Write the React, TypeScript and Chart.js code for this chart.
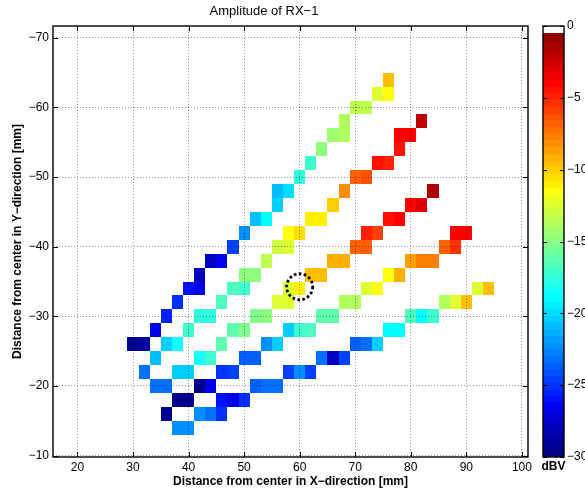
import React, { useEffect, useRef } from "react";
import { Chart, registerables } from "chart.js";

Chart.register(...registerables);

// ---------- texts ----------
const titleText = "Amplitude of RX\u22121";
const xAxisTitle = "Distance from center in X\u2212direction [mm]";
const yAxisTitle = "Distance from center in Y\u2212direction [mm]";
const colorbarUnit = "dBV";

// ---------- axes ----------
const xTickValues = [20, 30, 40, 50, 60, 70, 80, 90, 100];
const yTickValues = [-70, -60, -50, -40, -30, -20, -10];
const colorbarTicks = [0, -5, -10, -15, -20, -25, -30];
const xRange = [15.6, 101.1];
const yRange = [-71.7, -9.8];
const colorRange = [-30, 0];
const cellSize = 2; // mm

// ---------- data: rows of cells (y in mm), x centres (mm), amplitude (dBV) ----------
const rowY = [-64, -62, -60, -58, -56, -54, -52, -50, -48, -46, -44, -42, -40, -38, -36, -34, -32, -30, -28, -26, -24, -22, -20, -18, -16, -14];
const rowX = [
  [76],
  [74, 76],
  [70, 72],
  [68, 82],
  [66, 68, 78, 80],
  [64, 78],
  [62, 74, 76],
  [60, 70, 72],
  [56, 58, 68, 84],
  [56, 66, 80, 82],
  [52, 54, 62, 64, 76, 78],
  [50, 58, 60, 72, 74, 88, 90],
  [48, 56, 58, 70, 72, 86, 88],
  [44, 46, 54, 66, 68, 80, 82, 84],
  [42, 50, 52, 62, 64, 76, 78],
  [40, 42, 48, 50, 58, 60, 72, 74, 92, 94],
  [38, 46, 56, 58, 68, 70, 86, 88, 90],
  [36, 42, 44, 52, 54, 64, 66, 80, 82, 84],
  [34, 40, 48, 50, 58, 60, 62, 76, 78],
  [30, 32, 36, 38, 46, 54, 56, 70, 72, 74],
  [34, 42, 44, 50, 52, 64, 66, 68],
  [32, 38, 40, 46, 48, 58, 60, 62],
  [34, 36, 42, 44, 52, 54, 56],
  [38, 40, 46, 48, 50],
  [36, 42, 44, 46],
  [38, 40],
];
const rowDbV = [
  [-9.6],
  [-12.2, -11.3],
  [-13.5, -13.5],
  [-13.9, -2.3],
  [-14.3, -13.9, -4.1, -3.8],
  [-15.0, -4.3],
  [-16.9, -4.6, -4.9],
  [-17.8, -6.6, -6.2],
  [-21.0, -19.9, -8.4, -1.5],
  [-20.2, -10.1, -3.8, -3.0],
  [-21.0, -19.0, -10.8, -10.8, -4.6, -3.8],
  [-22.2, -11.7, -10.6, -4.9, -5.9, -4.2, -3.9],
  [-24.4, -13.1, -12.2, -7.0, -6.6, -6.6, -5.3],
  [-27.8, -26.3, -13.5, -9.0, -9.2, -8.6, -7.8, -7.8],
  [-27.8, -15.0, -14.6, -9.6, -9.6, -11.3, -9.0],
  [-25.8, -26.3, -16.5, -16.9, -12.2, -10.8, -12.2, -11.3, -12.2, -9.6],
  [-25.3, -16.5, -12.5, -12.2, -13.9, -13.9, -13.9, -12.5, -9.6],
  [-25.4, -17.7, -17.7, -15.4, -14.6, -16.0, -16.0, -16.5, -18.8, -16.9],
  [-26.3, -16.9, -16.0, -15.4, -20.6, -16.9, -16.5, -18.8, -18.8],
  [-29.5, -29.0, -20.2, -18.3, -16.0, -22.5, -20.6, -23.9, -23.4, -20.4],
  [-21.0, -18.3, -16.9, -23.9, -23.9, -23.4, -27.8, -24.4],
  [-23.4, -20.4, -20.2, -25.3, -24.8, -24.4, -22.5, -24.4],
  [-23.4, -23.0, -29.4, -26.6, -23.9, -23.4, -23.0],
  [-29.4, -29.4, -25.8, -26.3, -25.3],
  [-29.4, -22.2, -23.4, -25.3],
  [-22.5, -22.5],
];

// dotted circle marker (mm)
const markerX = [60];
const markerY = [-34.25];

// ---------- colormap (MATLAB jet(64), last entry white) ----------
const NCOL = 64;
function jetRGB(i: number): string {
  // i in 1..64
  if (i >= NCOL) return "rgb(255,255,255)";
  let r = 0, g = 0, b = 0;
  if (i <= 24) r = 0; else if (i <= 40) r = (i - 24) / 16; else if (i <= 56) r = 1; else r = 1 - (i - 56) / 16;
  if (i <= 8) g = 0; else if (i <= 24) g = (i - 8) / 16; else if (i <= 40) g = 1; else if (i <= 56) g = 1 - (i - 40) / 16; else g = 0;
  if (i <= 9) b = 0.5 + (i - 1) / 16; else if (i <= 25) b = 1; else if (i <= 40) b = 1 - (i - 25) / 16; else b = 0;
  return `rgb(${Math.round(r * 255)},${Math.round(g * 255)},${Math.round(b * 255)})`;
}
function colorFor(v: number): string {
  const [cmin, cmax] = colorRange;
  let idx = Math.floor(((v - cmin) / (cmax - cmin)) * NCOL) + 1;
  idx = Math.max(1, Math.min(NCOL, idx));
  return jetRGB(idx);
}

const FONT = "'Liberation Sans', Arial, Helvetica, sans-serif";
const fmt = (v: number) => (v < 0 ? "\u2212" + Math.abs(v) : String(v));

const heatmapPlugin = {
  id: "heatmapPlugin",
  beforeDraw(chart: any) {
    const { ctx } = chart;
    const xs = chart.scales.x;
    const ys = chart.scales.y;
    ctx.save();
    ctx.fillStyle = "#fff";
    ctx.fillRect(0, 0, chart.width, chart.height);
    rowY.forEach((ry, ri) => {
      rowX[ri].forEach((cx, ci) => {
        const x0 = Math.round(xs.getPixelForValue(cx - cellSize / 2));
        const x1 = Math.round(xs.getPixelForValue(cx + cellSize / 2));
        const y0 = Math.round(ys.getPixelForValue(ry - cellSize / 2));
        const y1 = Math.round(ys.getPixelForValue(ry + cellSize / 2));
        ctx.fillStyle = colorFor(rowDbV[ri][ci]);
        ctx.fillRect(Math.min(x0, x1), Math.min(y0, y1), Math.abs(x1 - x0), Math.abs(y1 - y0));
      });
    });
    ctx.restore();
  },
  afterDraw(chart: any) {
    const { ctx, chartArea } = chart;
    const xs = chart.scales.x;
    const ys = chart.scales.y;
    const cb = chart.scales.cb;
    const { left, right, top, bottom } = chartArea;
    ctx.save();

    // axes box
    ctx.strokeStyle = "#000";
    ctx.lineWidth = 1.4;
    ctx.strokeRect(left, top, right - left, bottom - top);

    // inward ticks on all four sides
    ctx.lineWidth = 1;
    ctx.beginPath();
    const tl = 5;
    xTickValues.forEach((v) => {
      const px = Math.round(xs.getPixelForValue(v)) + 0.5;
      ctx.moveTo(px, bottom); ctx.lineTo(px, bottom - tl);
      ctx.moveTo(px, top); ctx.lineTo(px, top + tl);
    });
    yTickValues.forEach((v) => {
      const py = Math.round(ys.getPixelForValue(v)) + 0.5;
      ctx.moveTo(left, py); ctx.lineTo(left + tl, py);
      ctx.moveTo(right, py); ctx.lineTo(right - tl, py);
    });
    ctx.stroke();

    // dotted circle marker
    ctx.lineWidth = 2.8;
    ctx.setLineDash([2.6, 2.4]);
    markerX.forEach((mx, i) => {
      ctx.beginPath();
      ctx.arc(xs.getPixelForValue(mx), ys.getPixelForValue(markerY[i]), 13, 0, Math.PI * 2);
      ctx.stroke();
    });
    ctx.setLineDash([]);

    // colorbar
    const barL = right + 15;
    const barW = 21;
    const [cmin, cmax] = colorRange;
    const step = (cmax - cmin) / NCOL;
    for (let k = 0; k < NCOL; k++) {
      const v0 = cmin + k * step;
      const v1 = v0 + step;
      const y0 = Math.round(cb.getPixelForValue(v0));
      const y1 = Math.round(cb.getPixelForValue(v1));
      ctx.fillStyle = jetRGB(k + 1);
      ctx.fillRect(barL, Math.min(y0, y1), barW, Math.abs(y1 - y0));
    }
    const cbTop = cb.getPixelForValue(cmax);
    const cbBot = cb.getPixelForValue(cmin);
    ctx.strokeStyle = "#000";
    ctx.lineWidth = 1.4;
    ctx.strokeRect(barL, cbTop, barW, cbBot - cbTop);
    ctx.lineWidth = 1;
    ctx.beginPath();
    colorbarTicks.forEach((v) => {
      const py = Math.round(cb.getPixelForValue(v)) + 0.5;
      ctx.moveTo(barL, py); ctx.lineTo(barL + 4, py);
      ctx.moveTo(barL + barW, py); ctx.lineTo(barL + barW - 4, py);
    });
    ctx.stroke();
    ctx.fillStyle = "#000";
    ctx.font = `12px ${FONT}`;
    ctx.textAlign = "left";
    ctx.textBaseline = "middle";
    colorbarTicks.forEach((v) => {
      ctx.fillText(fmt(v), barL + barW + 3, cb.getPixelForValue(v));
    });
    ctx.font = `bold 12px ${FONT}`;
    ctx.textAlign = "center";
    ctx.fillText(colorbarUnit, barL + barW / 2, cbBot + 10);
    ctx.restore();
  },
};

export default function App() {
  const canvasRef = useRef<HTMLCanvasElement | null>(null);

  useEffect(() => {
    if (!canvasRef.current) return;
    const chart = new Chart(canvasRef.current, {
      type: "scatter",
      data: { datasets: [] },
      options: {
        responsive: false,
        animation: false,
        devicePixelRatio: 1,
        layout: { padding: { left: 0, right: 57, top: 0, bottom: 0 } },
        plugins: {
          legend: { display: false },
          tooltip: { enabled: false },
          title: {
            display: true,
            text: titleText,
            color: "#000",
            font: { family: FONT, size: 13, weight: "normal", lineHeight: 1.2 },
            padding: { top: 4, bottom: 6.4 },
          },
        },
        scales: {
          x: {
            type: "linear",
            position: "bottom",
            min: xRange[0],
            max: xRange[1],
            afterBuildTicks: (s: any) => {
              s.ticks = xTickValues.map((v) => ({ value: v }));
            },
            afterFit: (s: any) => {
              s.height = 36;
            },
            ticks: {
              color: "#000",
              font: { family: FONT, size: 12 },
              padding: 3,
              maxRotation: 0,
              autoSkip: false,
              callback: (v: any) => fmt(Number(v)),
            },
            grid: { color: "rgba(0,0,0,0.42)", lineWidth: 1, drawTicks: false },
            border: { display: false, dash: [1, 2] },
            title: {
              display: true,
              text: xAxisTitle,
              color: "#000",
              font: { family: FONT, size: 12, weight: "bold", lineHeight: 1.2 },
              padding: { top: 0, bottom: 3.8 },
            },
          },
          y: {
            type: "linear",
            position: "left",
            reverse: true,
            min: yRange[0],
            max: yRange[1],
            afterBuildTicks: (s: any) => {
              s.ticks = yTickValues.map((v) => ({ value: v }));
            },
            afterFit: (s: any) => {
              s.width = 53;
            },
            ticks: {
              color: "#000",
              font: { family: FONT, size: 12 },
              padding: 4,
              autoSkip: false,
              callback: (v: any) => fmt(Number(v)),
            },
            grid: { color: "rgba(0,0,0,0.42)", lineWidth: 1, drawTicks: false },
            border: { display: false, dash: [1, 2] },
            title: {
              display: true,
              text: yAxisTitle,
              color: "#000",
              font: { family: FONT, size: 12, weight: "bold", lineHeight: 1.2 },
              padding: { top: 10.8, bottom: 0 },
            },
          },
          cb: {
            type: "linear",
            position: "right",
            display: false,
            min: colorRange[0],
            max: colorRange[1],
          },
        },
      },
      plugins: [heatmapPlugin],
    } as any);
    return () => chart.destroy();
  }, []);

  return (
    <div style={{ position: "fixed", left: 0, top: 0, width: 585, height: 493, background: "#fff", overflow: "hidden" }}>
      <canvas ref={canvasRef} width={585} height={493} style={{ display: "block", width: 585, height: 493 }} />
    </div>
  );
}
